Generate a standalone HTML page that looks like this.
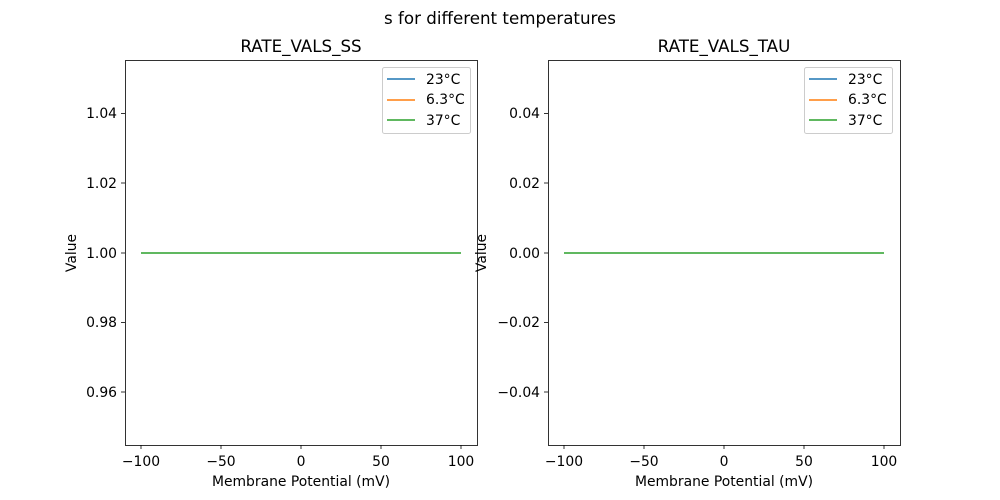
<!DOCTYPE html>
<html><head><meta charset="utf-8"><style>body{margin:0;background:#fff}svg{display:block}text{font-family:"DejaVu Sans","Liberation Sans",sans-serif;fill:#000}</style></head><body>
<svg width="1000" height="500" viewBox="0 0 1000 500" xmlns="http://www.w3.org/2000/svg">
<text x="500" y="24" font-size="16.7" text-anchor="middle">s for different temperatures</text>
<g>
<text x="301" y="52" font-size="16.7" text-anchor="middle">RATE_VALS_SS</text>
<line x1="141" y1="253" x2="461" y2="253" stroke="#2ca02c" stroke-width="1.5"/>
<rect x="125.5" y="60.5" width="352" height="385" fill="none" stroke="#000" stroke-width="0.8"/>
<g stroke="#000" stroke-width="0.8">
<line x1="141" y1="445" x2="141" y2="449"/><line x1="221" y1="445" x2="221" y2="449"/><line x1="301" y1="445" x2="301" y2="449"/><line x1="381" y1="445" x2="381" y2="449"/><line x1="461" y1="445" x2="461" y2="449"/>
<line x1="121" y1="113.5" x2="125" y2="113.5"/><line x1="121" y1="183" x2="125" y2="183"/><line x1="121" y1="253" x2="125" y2="253"/><line x1="121" y1="322.5" x2="125" y2="322.5"/><line x1="121" y1="392" x2="125" y2="392"/>
</g>
<g font-size="13.9" text-anchor="middle">
<text x="141" y="466">−100</text><text x="221" y="466">−50</text><text x="301" y="466">0</text><text x="381" y="466">50</text><text x="461" y="466">100</text>
</g>
<g font-size="13.9" text-anchor="end">
<text x="117" y="118">1.04</text><text x="117" y="188">1.02</text><text x="117" y="258">1.00</text><text x="117" y="327">0.98</text><text x="117" y="397">0.96</text>
</g>
<text x="301" y="486" font-size="13.9" text-anchor="middle">Membrane Potential (mV)</text>
<text transform="translate(76,253) rotate(-90)" font-size="13.9" text-anchor="middle">Value</text>
<rect x="382.5" y="67.5" width="88" height="66" rx="2" fill="#fff" stroke="#ccc"/>
<line x1="387" y1="79" x2="415" y2="79" stroke="#1f77b4" stroke-width="1.5"/><text x="426" y="84" font-size="13.9">23°C</text>
<line x1="387" y1="100" x2="415" y2="100" stroke="#ff7f0e" stroke-width="1.5"/><text x="426" y="104" font-size="13.9">6.3°C</text>
<line x1="387" y1="120" x2="415" y2="120" stroke="#2ca02c" stroke-width="1.5"/><text x="426" y="125" font-size="13.9">37°C</text>
</g>
<g>
<text x="724" y="52" font-size="16.7" text-anchor="middle">RATE_VALS_TAU</text>
<line x1="564" y1="253" x2="884" y2="253" stroke="#2ca02c" stroke-width="1.5"/>
<rect x="548.5" y="60.5" width="352" height="385" fill="none" stroke="#000" stroke-width="0.8"/>
<g stroke="#000" stroke-width="0.8">
<line x1="564" y1="445" x2="564" y2="449"/><line x1="644" y1="445" x2="644" y2="449"/><line x1="724" y1="445" x2="724" y2="449"/><line x1="804" y1="445" x2="804" y2="449"/><line x1="884" y1="445" x2="884" y2="449"/>
<line x1="544" y1="113.5" x2="548" y2="113.5"/><line x1="544" y1="183" x2="548" y2="183"/><line x1="544" y1="253" x2="548" y2="253"/><line x1="544" y1="322.5" x2="548" y2="322.5"/><line x1="544" y1="392" x2="548" y2="392"/>
</g>
<g font-size="13.9" text-anchor="middle">
<text x="564" y="466">−100</text><text x="644" y="466">−50</text><text x="724" y="466">0</text><text x="804" y="466">50</text><text x="884" y="466">100</text>
</g>
<g font-size="13.9" text-anchor="end">
<text x="540" y="118">0.04</text><text x="540" y="188">0.02</text><text x="540" y="258">0.00</text><text x="540" y="327">−0.02</text><text x="540" y="397">−0.04</text>
</g>
<text x="724" y="486" font-size="13.9" text-anchor="middle">Membrane Potential (mV)</text>
<text transform="translate(486,253) rotate(-90)" font-size="13.9" text-anchor="middle">Value</text>
<rect x="804.5" y="67.5" width="88" height="66" rx="2" fill="#fff" stroke="#ccc"/>
<line x1="809" y1="79" x2="837" y2="79" stroke="#1f77b4" stroke-width="1.5"/><text x="848" y="84" font-size="13.9">23°C</text>
<line x1="809" y1="100" x2="837" y2="100" stroke="#ff7f0e" stroke-width="1.5"/><text x="848" y="104" font-size="13.9">6.3°C</text>
<line x1="809" y1="120" x2="837" y2="120" stroke="#2ca02c" stroke-width="1.5"/><text x="848" y="125" font-size="13.9">37°C</text>
</g>
</svg>
</body></html>
